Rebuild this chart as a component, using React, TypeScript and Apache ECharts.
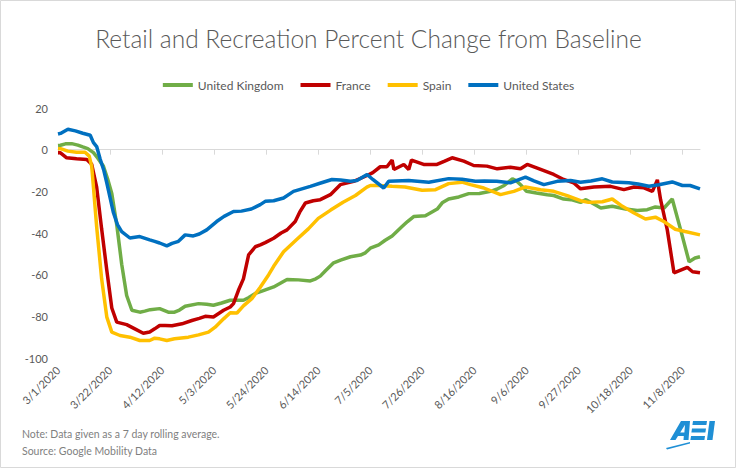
import React, { useEffect, useRef } from 'react';
import * as echarts from 'echarts';

// x values are days after 3/1/2020
const tickLabels = ['3/1/2020','3/22/2020','4/12/2020','5/3/2020','5/24/2020','6/14/2020','7/5/2020','7/26/2020','8/16/2020','9/6/2020','9/27/2020','10/18/2020','11/8/2020'];
const tickDays = [0,21,42,63,84,105,126,147,168,189,210,231,252];
const lastDay = 259;

const seriesNames = ['United Kingdom', 'France', 'Spain', 'United States'];
const seriesColors = ['#70AD47', '#C00000', '#FFC000', '#0070C0'];

const ukData: [number, number][] = [
  [0,2],[1,2.1],[3,2.8],[5.5,2.9],[8,2.2],[10,1.3],[12,0.5],[14.3,-1.4],[16,-4],[18.3,-7.9],[20,-14],[21.7,-21],[23.7,-36],[25.7,-55],[27.7,-70],[29.8,-77.1],[33,-78],[35,-77.5],[37.2,-76.8],[41,-76.3],[44.5,-78],[47,-78],[49,-77],[51.3,-75.2],[56.7,-73.9],[60,-74.2],[62.7,-74.7],[66,-73.6],[69.5,-72.3],[74.8,-72.3],[77,-71],[79.6,-69],[82,-68],[87,-65.9],[92.4,-62.3],[97,-62.5],[101.8,-63],[104,-62],[105.8,-60.7],[108,-58],[111.2,-54.3],[114,-53],[118,-51.4],[122,-50.6],[124,-49.5],[126,-47.3],[129.4,-45.7],[132,-43.5],[134.8,-41.4],[138.8,-36.9],[141,-34.5],[143.5,-32.1],[148.2,-31.7],[150,-30.5],[153,-28.5],[155,-25.5],[157.6,-23.7],[161.7,-22.7],[165.7,-21.1],[170,-21],[174.5,-20],[177,-19],[180,-17.2],[183.3,-14],[185,-15],[186.6,-16.8],[189,-20],[193,-20.8],[197.4,-21.6],[200,-22],[204,-23.7],[207,-24],[210.8,-25.3],[213,-24],[216,-26],[219,-28],[223.6,-27.2],[229,-28.5],[233.7,-29.2],[237.7,-28.8],[241,-27.5],[244.5,-28],[247.8,-23.7],[251.2,-38.5],[254.6,-53.8],[257,-52],[259,-51.4]
];

const franceData: [number, number][] = [
  [0,-1.5],[1,-1.5],[3.5,-3.9],[7.5,-4.4],[11.6,-4.7],[13.6,-7],[15.6,-18],[17.6,-38],[19.7,-58],[21.7,-76],[23.7,-82.8],[27.7,-84],[31,-86],[34.4,-88.1],[37,-87.5],[39,-86],[41,-84.4],[43.2,-84.4],[46,-84.5],[50,-83.6],[54,-82],[57,-81],[59.4,-80],[62.7,-80.3],[66.8,-77.1],[69.5,-75.5],[70.8,-73.9],[72.8,-67.5],[74.8,-62],[76.9,-50.5],[79.6,-46.6],[81.6,-45.7],[83.6,-44.6],[87,-42.5],[90,-40],[92.4,-38.5],[95.7,-34.5],[97.5,-30],[99.8,-25.6],[103,-24.5],[105.8,-24],[109.9,-21.6],[113.9,-16.8],[119.3,-15.2],[124.7,-12.4],[127,-11],[130,-8.2],[132.7,-8.2],[134.8,-5],[135.5,-9.5],[139.5,-7.1],[141.5,-9.5],[142.6,-5],[147.5,-7.1],[152.9,-7.1],[156,-5.5],[159,-3.9],[163.7,-5.5],[167.7,-7.6],[173,-7.9],[177.2,-9.2],[182.5,-8.4],[186.6,-9.2],[189.3,-7.1],[194.7,-9.5],[200,-11.9],[204,-14.3],[208,-15.9],[210.8,-18.8],[216.2,-17.9],[222.9,-17.6],[228.3,-19.2],[232.4,-17.9],[236.4,-18.3],[239.8,-20],[241.8,-14.5],[243.1,-24],[245.8,-38.5],[248.5,-59.1],[251.2,-57.8],[253.9,-56.5],[256,-58.6],[259,-59.1]
];

const spainData: [number, number][] = [
  [0,0.5],[1,0.5],[4,-0.7],[7.5,-1.2],[10.9,-1.2],[12.6,-3.1],[13.6,-8],[14.3,-18],[15.6,-37],[17.6,-62],[19.7,-80.4],[21.7,-87.6],[25,-89.2],[29,-90],[33,-91.6],[37,-91.6],[39,-90.5],[41,-90.8],[43.9,-91.6],[47,-90.8],[52.6,-90],[56.7,-88.9],[60.7,-87.6],[63.4,-85.2],[66.8,-81.2],[69.5,-78.3],[72.2,-78.4],[74.8,-75],[78.2,-71.5],[81.6,-66],[85,-60],[87,-56],[91,-49],[96.4,-43],[101,-38],[105,-33],[110,-29],[115,-25.2],[120,-22],[124.6,-18],[126,-17.2],[129.4,-17.2],[134.8,-17.6],[140,-17.9],[146.9,-19.5],[152.3,-19.2],[157.6,-16.3],[163,-15.6],[166.4,-16.8],[171.8,-18.4],[178.5,-21.6],[183.9,-20],[188.6,-17.9],[194.7,-19.2],[200,-20],[205.4,-22.1],[210.8,-24.5],[214,-25.3],[219.6,-25],[223.6,-23.7],[227.7,-27.2],[232.4,-30.4],[237,-33.3],[241,-32.4],[244.4,-34.5],[249,-38.2],[253,-39.3],[259,-40.9]
];

const usData: [number, number][] = [
  [0,7.5],[1,7.8],[4,9.8],[7,9],[10,7.9],[13,6.9],[14.3,3.4],[15.6,1.5],[17,-4.5],[18.5,-10],[19.7,-16],[21,-23],[22.3,-30],[24,-36],[25.7,-39.3],[29,-42.4],[33,-41.7],[37,-43.3],[39,-44],[41,-44.8],[43.9,-46.2],[46,-45],[48.6,-44],[51.3,-40.9],[54.6,-41.4],[57,-40.5],[60,-38.5],[64,-34.5],[67,-32],[70.8,-29.7],[74,-29.5],[78,-28.5],[81.6,-26.4],[83.6,-24.8],[87,-24.5],[91,-23.2],[95,-20],[101.8,-17.6],[106,-16],[110.5,-14.3],[114,-14.6],[118,-15.2],[120.6,-14.8],[124.7,-11.9],[127,-14.3],[131.4,-18.4],[133.4,-15.2],[141.5,-14.8],[149.6,-15.6],[157.6,-13.9],[163,-14.2],[168.4,-15.2],[172,-15],[177,-15.2],[182.5,-15.9],[188.6,-13.2],[192,-15],[196,-16.8],[201.4,-15.2],[206.8,-14.8],[210.8,-15.6],[215,-15],[219.6,-14],[223.6,-15.5],[230.3,-15.9],[234,-16.5],[238.4,-17.6],[242.4,-16.8],[247.8,-15.5],[251.9,-17.2],[255,-17.2],[259,-18.8]
];

const allData = [ukData, franceData, spainData, usData];

const FONT = 'Lato, "Open Sans", sans-serif';
const TEXT = '#595959';

export default function App() {
  const ref = useRef<HTMLDivElement>(null);
  useEffect(() => {
    if (!ref.current) return;
    const chart = echarts.init(ref.current, undefined, { renderer: 'svg' });
    const logoBlue = '#1F8FD5';
    chart.setOption({
      animation: false,
      backgroundColor: '#ffffff',
      title: {
        text: 'Retail and Recreation Percent Change from Baseline',
        left: 'center',
        top: 21,
        textStyle: { fontFamily: FONT, fontWeight: 300, fontSize: 24.5, color: TEXT },
      },
      legend: {
        top: 74,
        left: 'center',
        icon: 'rect',
        itemWidth: 30,
        itemHeight: 4,
        itemGap: 17,
        data: seriesNames,
        textStyle: { fontFamily: FONT, fontSize: 12, color: TEXT },
      },
      grid: { left: 58, right: 37, top: 108, bottom: 111, containLabel: false },
      xAxis: [
        {
          type: 'value',
          min: 0,
          max: lastDay,
          position: 'bottom',
          axisLine: { show: false, onZero: false },
          axisTick: { show: false },
          splitLine: { show: false },
          axisLabel: {
            customValues: tickDays,
            rotate: 45,
            margin: 10,
            fontFamily: FONT,
            fontSize: 11,
            color: TEXT,
            formatter: (v: number) => {
              const i = tickDays.indexOf(Math.round(v));
              return i >= 0 ? tickLabels[i] : '';
            },
          },
        },
        {
          type: 'value',
          min: 0,
          max: lastDay,
          position: 'top',
          axisLine: { show: true, onZero: true, lineStyle: { color: '#D9D9D9', width: 1 } },
          axisTick: { show: true, inside: true, length: 5, customValues: tickDays, lineStyle: { color: '#D9D9D9' } },
          axisLabel: { show: false },
          splitLine: { show: false },
        },
      ],
      yAxis: {
        type: 'value',
        min: -100,
        max: 20,
        interval: 20,
        axisLine: { show: false },
        axisTick: { show: false },
        splitLine: { show: false },
        axisLabel: { fontFamily: FONT, fontSize: 11, color: TEXT, margin: 10 },
      },
      series: seriesNames.map((name, i) => ({
        name,
        type: 'line',
        xAxisIndex: 0,
        data: allData[i],
        showSymbol: false,
        symbol: 'none',
        color: seriesColors[i],
        lineStyle: { width: 3.5, color: seriesColors[i] },
        z: 2 + i,
      })),
      graphic: [
        {
          type: 'rect',
          shape: { x: 0.5, y: 0.5, width: 735, height: 467 },
          style: { fill: 'none', stroke: '#D9D9D9', lineWidth: 1 },
          silent: true,
        },
        {
          type: 'text',
          left: 22,
          top: 428,
          style: { text: 'Note: Data given as a 7 day rolling average.', fontFamily: FONT, fontSize: 10.5, fill: '#7F7F7F' },
        },
        {
          type: 'text',
          left: 22,
          top: 445,
          style: { text: 'Source: Google Mobility Data', fontFamily: FONT, fontSize: 10.5, fill: '#7F7F7F' },
        },
        {
          type: 'group',
          x: 666,
          y: 419,
          children: [
            { type: 'polygon', shape: { points: [[4,21],[15,2],[24,2],[22.5,21],[17.5,21],[17.8,17],[12,17],[9.5,21]] }, style: { fill: logoBlue } },
            { type: 'polygon', shape: { points: [[14.2,13.5],[19,5.8],[18.4,13.5]] }, style: { fill: '#ffffff' } },
            { type: 'polygon', shape: { points: [[27,2],[41,2],[40.4,6],[26.4,6]] }, style: { fill: logoBlue } },
            { type: 'polygon', shape: { points: [[26,9.5],[40,9.5],[39.4,13.5],[25.4,13.5]] }, style: { fill: logoBlue } },
            { type: 'polygon', shape: { points: [[25,17],[39,17],[38.4,21],[24.4,21]] }, style: { fill: logoBlue } },
            { type: 'polygon', shape: { points: [[43.5,2],[49,2],[46.5,21],[41,21]] }, style: { fill: logoBlue } },
            { type: 'polygon', shape: { points: [[0,29],[24,23],[24,24.5],[1,30.5]] }, style: { fill: logoBlue } },
          ],
        },
      ],
    });
    return () => chart.dispose();
  }, []);
  return (
    <div
      ref={ref}
      style={{ position: 'fixed', left: 0, top: 0, width: 737, height: 469, background: '#fff' }}
    />
  );
}
